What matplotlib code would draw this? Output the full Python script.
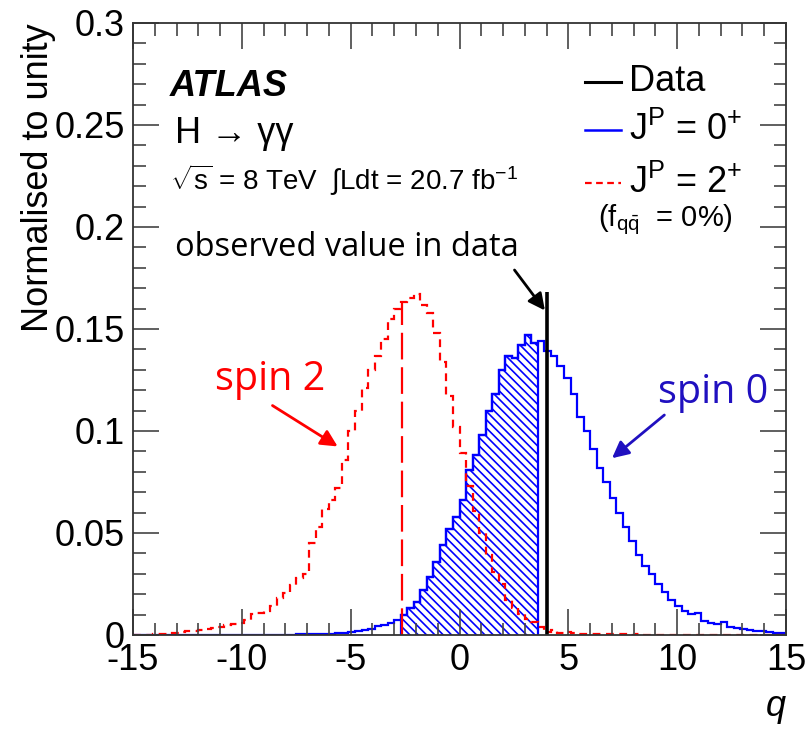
import numpy as np
import matplotlib
matplotlib.use('Agg')
import matplotlib.pyplot as plt
from matplotlib.ticker import MultipleLocator, FormatStrFormatter

# histogram contents, 100 bins from -15 to 15
spin0 = [
    0, 0, 0, 0, 0, 0, 0, 0, 0, 0,
    0, 0, 0, 0, 0, 0, 0.0001, 0.0001, 0.0001, 0.0001,
    0.0001, 0.0001, 0.0002, 0.0002, 0.0002, 0.0003, 0.0003, 0.0004, 0.0005, 0.0006,
    0.0007, 0.0009, 0.0011, 0.0014, 0.0018, 0.0024, 0.003, 0.0042, 0.005, 0.006,
    0.0075, 0.0098, 0.013, 0.016, 0.022, 0.0286, 0.036, 0.044, 0.052, 0.058,
    0.066, 0.081, 0.088, 0.098, 0.110, 0.118, 0.130, 0.137, 0.136, 0.142,
    0.147, 0.143, 0.144, 0.139, 0.137, 0.132, 0.126, 0.118, 0.107, 0.100,
    0.091, 0.082, 0.075, 0.067, 0.060, 0.053, 0.046, 0.039, 0.034, 0.030,
    0.025, 0.021, 0.017, 0.014, 0.012, 0.0105, 0.011, 0.007, 0.006, 0.0055,
    0.0065, 0.004, 0.0035, 0.003, 0.0025, 0.002, 0.0018, 0.0016, 0.0012, 0.001,
]
spin2 = [
    0, 0, 0.0002, 0.0003, 0.0005, 0.0007, 0.001, 0.0015, 0.002, 0.0022,
    0.0024, 0.003, 0.0035, 0.004, 0.005, 0.0055, 0.006, 0.0075, 0.0105, 0.011,
    0.012, 0.014, 0.018, 0.0205, 0.0245, 0.028, 0.030, 0.045, 0.053, 0.062,
    0.066, 0.072, 0.086, 0.100, 0.110, 0.121, 0.130, 0.137, 0.145, 0.155,
    0.160, 0.163, 0.165, 0.167, 0.162, 0.158, 0.148, 0.134, 0.117, 0.102,
    0.089, 0.073, 0.061, 0.050, 0.039, 0.031, 0.025, 0.017, 0.013, 0.0105,
    0.008, 0.0062, 0.004, 0.0015, 0.0025, 0.001, 0.0015, 0.0008, 0.0005, 0.0005,
    0.0004, 0.0004, 0.0003, 0.0004, 0.0003, 0.0003, 0.0002, 0.0003, 0.0002, 0.0002,
    0.0002, 0.0002, 0.0001, 0.0002, 0.0001, 0.0001, 0.0001, 0.0001, 0.0001, 0,
    0, 0, 0, 0, 0, 0, 0, 0, 0, 0,
]
q_min, q_max = -15, 15
q_obs = 4.02            # observed value in data
data_height = 0.168
spin2_median = -2.66
spin2_median_height = 0.163
hatch_lo, hatch_hi = -2.7, 3.6

plt.rcParams['font.family'] = ['Liberation Sans', 'DejaVu Sans']
plt.rcParams['axes.unicode_minus'] = False
plt.rcParams['mathtext.fontset'] = 'custom'
plt.rcParams['mathtext.rm'] = 'Liberation Sans'
plt.rcParams['mathtext.it'] = 'Liberation Sans:italic'
plt.rcParams['mathtext.bf'] = 'Liberation Sans:bold'
plt.rcParams['hatch.linewidth'] = 1.2

blue = '#0000ff'
red = '#ff0000'
fs = 26

fig = plt.figure(figsize=(8.09, 7.33), dpi=100)
ax = fig.add_axes([133/809, 98/733, 653/809, 612/733])

spin0 = np.array(spin0)
spin2 = np.array(spin2)
edges = np.linspace(q_min, q_max, len(spin0) + 1)

# spin 0 histogram and the hatched part between spin-2 median and data
ax.stairs(spin0, edges, color=blue, lw=1.6)
in_e = (edges >= hatch_lo - 1e-9) & (edges <= hatch_hi + 1e-9)
in_b = in_e[:-1] & in_e[1:]
ax.stairs(spin0[in_b], edges[in_e], fill=True, facecolor='none',
          edgecolor=blue, hatch='\\\\\\\\', lw=1.6)

# spin 2 histogram
ax.stairs(spin2, edges, color=red, lw=1.6, linestyle=(0, (3.5, 2.5)))
ax.vlines(spin2_median, 0, spin2_median_height, colors=red, lw=1.6,
          linestyles=[(0, (12, 3.5))])

# observed value
ax.vlines(q_obs, 0, data_height, colors='black', lw=2.6)

ax.set_xlim(q_min, q_max)
ax.set_ylim(0, 0.3)
ax.xaxis.set_major_locator(MultipleLocator(5))
ax.xaxis.set_minor_locator(MultipleLocator(1))
ax.yaxis.set_major_locator(MultipleLocator(0.05))
ax.yaxis.set_minor_locator(MultipleLocator(0.01))
ax.yaxis.set_major_formatter(FormatStrFormatter('%g'))
ax.tick_params(which='both', direction='in', top=True, right=True,
               color='#444444', width=1.2, labelsize=fs)
ax.tick_params(which='major', length=19, pad=6)
ax.tick_params(which='minor', length=9)
for s in ax.spines.values():
    s.set_linewidth(1.3)
    s.set_color('#333333')

ax.set_ylabel('Normalised to unity', fontsize=fs, loc='top', labelpad=-1)
ax.set_xlabel('q', fontsize=fs, fontstyle='italic', loc='right', labelpad=8)

# ATLAS labels
ax.text(0.057, 0.881, 'ATLAS', transform=ax.transAxes, fontsize=fs,
        fontweight='bold', fontstyle='italic', va='baseline')
ax.text(0.064, 0.804, 'H → γγ', transform=ax.transAxes, fontsize=fs,
        va='baseline')
ax.text(0.057, 0.727, r'$\sqrt{\mathrm{s}}$ = 8 TeV  $\int$Ldt = 20.7 fb$^{-1}$',
        transform=ax.transAxes, fontsize=20, va='baseline')

# legend
leg_rows = [
    ('Data', dict(color='black', lw=2.2, ls='-'), 0.9036),
    (r'$\mathrm{J^{P}}$ = $\mathrm{0^{+}}$', dict(color=blue, lw=1.8, ls='-'), 0.825),
    (r'$\mathrm{J^{P}}$ = $\mathrm{2^{+}}$', dict(color=red, lw=1.6, ls=(0, (3, 2))), 0.7386),
]
for label, style, yy in leg_rows:
    ax.plot([0.692, 0.748], [yy, yy], transform=ax.transAxes, clip_on=False, **style)
    ax.text(0.759, yy, label, transform=ax.transAxes, fontsize=fs, va='center')
ax.text(0.712, 0.678, r'($\mathrm{f_{q\bar{q}}}$  = 0%)', transform=ax.transAxes,
        fontsize=21, va='center')

# slide annotations
ann_font = ['Open Sans', 'DejaVu Sans']
ax.text(-13.07, 0.186, 'observed value in data', fontsize=23.5, family=ann_font,
        va='baseline')
ax.annotate('', xy=(4.0, 0.158), xytext=(2.45, 0.180),
            arrowprops=dict(arrowstyle='-|>', color='black', lw=2, mutation_scale=25))
ax.text(-11.23, 0.120, 'spin 2', fontsize=28.5, family=ann_font, color=red,
        va='baseline')
ax.annotate('', xy=(-5.49, 0.0917), xytext=(-8.7, 0.1132),
            arrowprops=dict(arrowstyle='-|>', color=red, lw=2, mutation_scale=25))
ax.text(9.12, 0.1137, 'spin 0', fontsize=28.5, family=ann_font, color='#2010c0',
        va='baseline')
ax.annotate('', xy=(6.91, 0.0858), xytext=(9.51, 0.1087),
            arrowprops=dict(arrowstyle='-|>', color='#2010c0', lw=2, mutation_scale=25))

fig.savefig('out.png', dpi=100)
